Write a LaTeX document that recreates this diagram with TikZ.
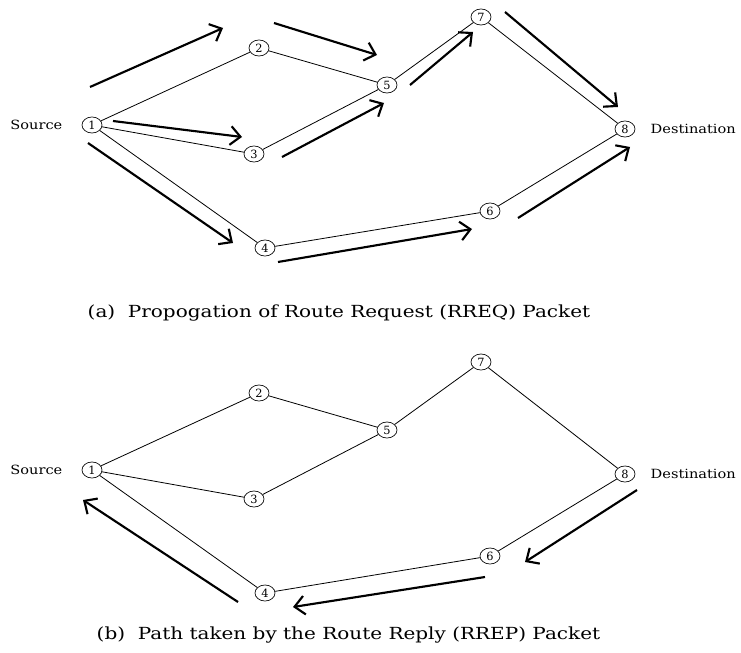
\documentclass[tikz,border=0pt]{standalone}
\usepackage{fontspec}
\setmainfont{DejaVu Serif}
\newfontfamily\capfont[FakeStretch=1.2]{DejaVu Serif}
\newfontfamily\tagfont[FakeStretch=1.15]{DejaVu Serif}
\usepackage{tikz}
\usetikzlibrary{shapes.geometric, arrows.meta}
\usetikzlibrary{positioning,calc}

\begin{document}
\begin{tikzpicture}[x=0.75pt,y=-0.75pt,
        host/.style={draw, ellipse, line width=0.5pt, inner sep=0pt,
            minimum width=15pt, minimum height=12pt,
            font=\fontsize{8.5}{9}\selectfont},
        link/.style={line width=0.6pt},
        flow/.style={line width=1.6pt, -{Straight Barb[length=7.5pt,width=14pt]}},
        tag/.style={font=\tagfont\fontsize{9.5}{11}\selectfont},
        caption/.style={anchor=west, font=\capfont\fontsize{12.5}{15}\selectfont}]
        \useasboundingbox (0,0) rectangle (741,652);
        \def\gap{345}
        \def\srcgap{11pt}
        \def\dstgap{8pt}
        \foreach \p/\dy in {a/0, b/\gap}
        {
        \begin{scope}[shift={(0,\dy)}]
        \foreach \n/\x/\y in {1/92/125, 2/259/48, 3/254/154, 4/265/248,
                5/387/85, 6/490/211, 7/481/17, 8/625/129}
        {
            \node [host] (\p\n) at (\x,\y) {\n};
        }
        \foreach \u/\v in {1/2, 2/5, 1/3, 3/5, 1/4, 4/6, 5/7, 7/8, 6/8}
        {
            \draw [link] (\p\u) -- (\p\v);
        }
        \node [tag, left=\srcgap of \p1] (\p-src) {Source};
        \node [tag, right=\dstgap of \p8] (\p-dst) {Destination};
        \end{scope}
        }
        \node [caption] (capa) at (83,313) {(a)~~Propogation of Route Request (RREQ) Packet};
        \node [caption] (capb) at (92,635) {(b)~~Path taken by the Route Reply (RREP) Packet};
        % RREQ flooding
        \foreach \sx/\sy/\ex/\ey in {90/87/223/28, 274/23/377/55, 113/121/242/137,
                88/143/233/243, 282/157/384/103, 410/85/473/32, 505/12/618/107,
                518/218/630/147, 278/262/472/229}
        {
            \draw [flow] (\sx,\sy) -- (\ex,\ey);
        }
        % RREP back to source
        \foreach \sx/\sy/\ex/\ey in {238/602/83/500, 485/577/293/607, 637/490/525/562}
        {
            \draw [flow] (\sx,\sy) -- (\ex,\ey);
        }
\end{tikzpicture}
\end{document}
